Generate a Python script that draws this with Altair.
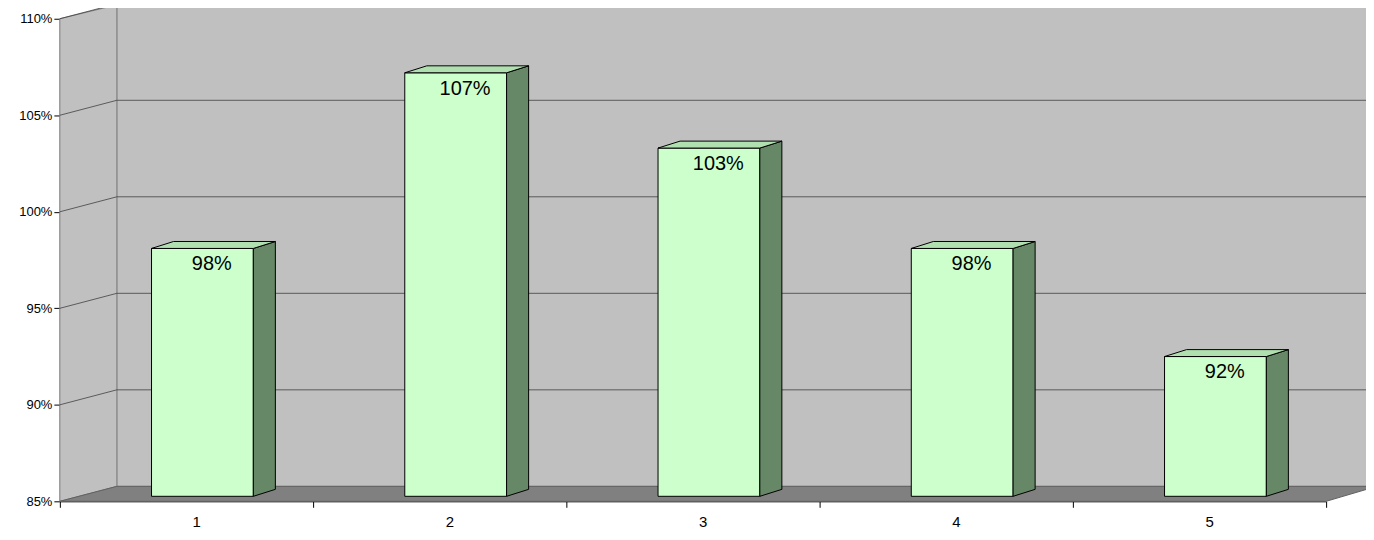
import pandas as pd
import altair as alt

cats = [1, 2, 3, 4, 5]
values = [98.1, 107.2, 103.3, 98.1, 92.5]
labels = ["98%", "107%", "103%", "98%", "92%"]
y_ticks = [85, 90, 95, 100, 105, 110]

# depth offsets in data units
wdx, wdy = 0.225, 0.775   # wall depth
bdx, bdy = 0.087, 0.36    # bar depth
base = 85.26
fl, fr = -0.138, 0.264
xr = 5.7

X = alt.Scale(domain=[0.5, 5.5], nice=False, zero=False)
Y = alt.Scale(domain=[85, 110], nice=False, zero=False)
AX = alt.Axis(values=[0.5, 1.5, 2.5, 3.5, 4.5, 5.5], labels=False, title=None, grid=False,
              domainColor="black", tickColor="black", tickSize=6)
AY = alt.Axis(values=y_ticks, labelExpr="datum.value + '%'", title=None, grid=False,
              domainColor="black", tickColor="black", tickSize=6, labelPadding=2,
              labelFont="Liberation Sans", labelFontSize=13, labelColor="black")

def xq(f="x"):
    return alt.X(f + ":Q", scale=X, axis=AX)

def yq(f="y"):
    return alt.Y(f + ":Q", scale=Y, axis=AY)

back = pd.DataFrame({"x": [0.5 + wdx], "x2": [xr], "y": [85 + wdy], "y2": [110 + 0.72]})
back_wall = alt.Chart(back).mark_rect(color="#C0C0C0", stroke="#808080").encode(
    x=xq(), x2="x2", y=yq(), y2="y2")

left = pd.DataFrame({"x": [0.5, 0.5 + wdx], "y": [85, 85 + wdy], "y2": [110, 110.72]})
left_wall = alt.Chart(left).mark_area(color="#C0C0C0", stroke="#808080").encode(
    x=xq(), y=yq(), y2="y2")

floor = pd.DataFrame({"y": [85, 85 + wdy], "x": [0.5, 0.5 + wdx], "x2": [5.5, xr]})
floor_m = alt.Chart(floor).mark_area(orient="horizontal", color="#808080", stroke="#606060").encode(
    y=yq(), x=xq(), x2="x2")

grid_rows = []
for t in y_ticks[1:-1]:
    grid_rows.append({"x": 0.5 + wdx, "x2": xr, "y": t + wdy, "y2": t + wdy})
for t in y_ticks[1:]:
    grid_rows.append({"x": 0.5, "x2": 0.5 + wdx, "y": t, "y2": t + wdy})
grid = alt.Chart(pd.DataFrame(grid_rows)).mark_rule(color="#404040", strokeWidth=0.8).encode(
    x=xq(), x2="x2", y=yq(), y2="y2")

front = pd.DataFrame({"x": [c + fl for c in cats], "x2": [c + fr for c in cats],
                      "y": [base] * 5, "y2": values})
front_m = alt.Chart(front).mark_rect(color="#CCFFCC", stroke="black", strokeWidth=1).encode(
    x=xq(), x2="x2", y=yq(), y2="y2")

side_rows, top_rows = [], []
for c, v in zip(cats, values):
    side_rows += [{"b": c, "x": c + fr, "y": base, "y2": v},
                  {"b": c, "x": c + fr + bdx, "y": base + bdy, "y2": v + bdy}]
    top_rows += [{"b": c, "y": v, "x": c + fl, "x2": c + fr},
                 {"b": c, "y": v + bdy, "x": c + fl + bdx, "x2": c + fr + bdx}]
side = alt.Chart(pd.DataFrame(side_rows)).mark_area(color="#668866", stroke="black", strokeWidth=1).encode(
    x=xq(), y=yq(), y2="y2", detail="b:N")
top = alt.Chart(pd.DataFrame(top_rows)).mark_area(orient="horizontal", color="#B0E0B0", stroke="black", strokeWidth=1).encode(
    y=yq(), x=xq(), x2="x2", detail="b:N")

lab = pd.DataFrame({"x": [c + 0.1 for c in cats], "y": values, "t": labels})
bar_text = alt.Chart(lab).mark_text(font="Liberation Sans", fontSize=20, baseline="top", dy=6).encode(
    x=xq(), y=yq(), text="t:N")

xl = pd.DataFrame({"x": [c + 0.04 for c in cats], "y": [85] * 5, "t": [str(c) for c in cats]})
x_text = alt.Chart(xl).mark_text(font="Liberation Sans", fontSize=15, baseline="top", dy=14).encode(
    x=xq(), y=yq(), text="t:N")

chart = alt.layer(back_wall, left_wall, floor_m, grid, front_m, side, top, bar_text, x_text).properties(
    width=1270, height=484, autosize=alt.AutoSizeParams(type="none"),
    padding={"left": 52, "top": 10, "right": 40, "bottom": 30}
).configure_view(stroke=None)

chart.save("out.html", embed_options={"renderer": "svg", "actions": False})
